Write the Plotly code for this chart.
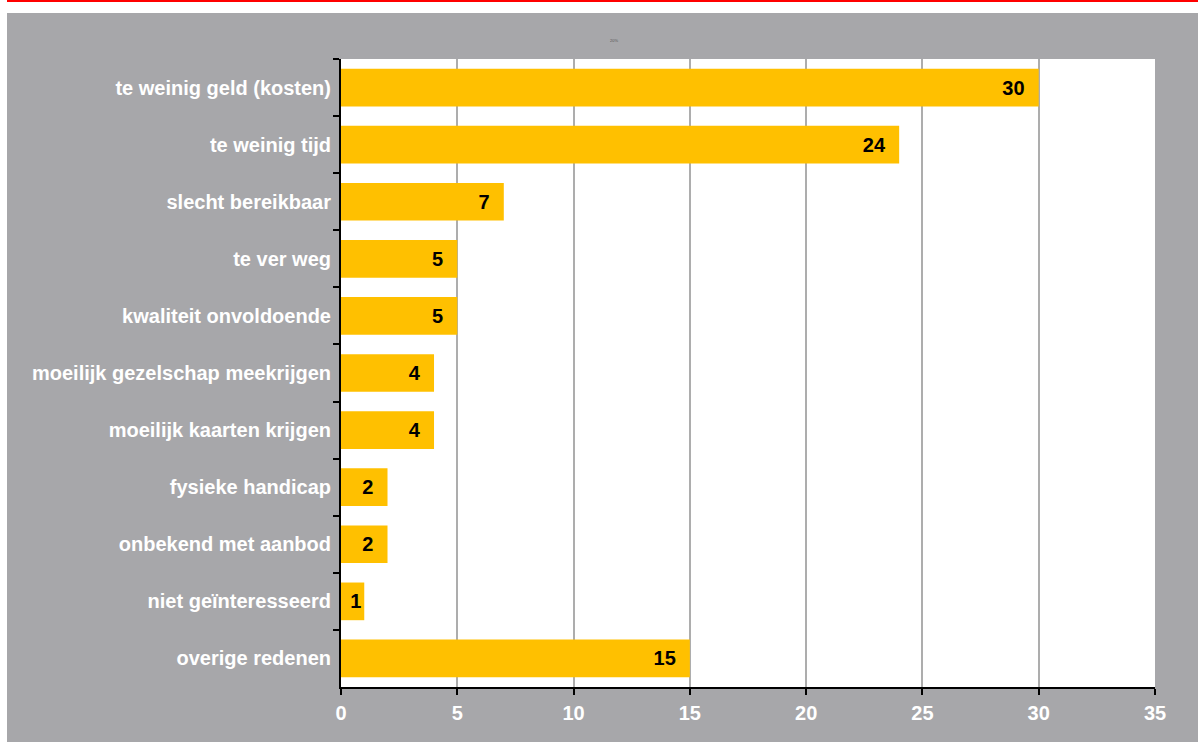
import plotly.graph_objects as go

categories = ["te weinig geld (kosten)", "te weinig tijd", "slecht bereikbaar", "te ver weg",
              "kwaliteit onvoldoende", "moeilijk gezelschap meekrijgen", "moeilijk kaarten krijgen",
              "fysieke handicap", "onbekend met aanbod", "niet geïnteresseerd", "overige redenen"]
values = [30, 24, 7, 5, 5, 4, 4, 2, 2, 1, 15]
x_ticks = [0, 5, 10, 15, 20, 25, 30, 35]

GRAY = "#a7a7aa"
BAR = "#ffc000"
FONT = "Liberation Sans, Arial, sans-serif"

W, H = 1198, 742
L, R, T, B = 341, 43, 59, 55
PW, PH = W - L - R, H - T - B

labels = [f"{v}" + ("\u00a0\u00a0" if v >= 2 else "") for v in values]

fig = go.Figure(go.Bar(
    y=categories, x=values, orientation="h",
    marker=dict(color=BAR, line=dict(width=0)),
    width=0.66,
    text=labels,
    textposition="inside", insidetextanchor="end", constraintext="none",
    textfont=dict(family=FONT, size=20, color="black", weight="bold"),
    cliponaxis=False,
))

fig.update_layout(
    width=W, height=H,
    paper_bgcolor=GRAY, plot_bgcolor="white",
    margin=dict(l=L, r=R, t=T, b=B),
    showlegend=False,
    font=dict(family=FONT),
    shapes=[
        dict(type="rect", xref="paper", yref="paper", x0=-L/PW, x1=1+R/PW,
             y0=1+(T-13)/PH, y1=1+T/PH, fillcolor="white", line=dict(width=0), layer="below"),
        dict(type="rect", xref="paper", yref="paper", x0=-L/PW, x1=-(L-7)/PW,
             y0=-B/PH, y1=1+T/PH, fillcolor="white", line=dict(width=0), layer="below"),
        dict(type="line", xref="paper", yref="paper", x0=-(L-7)/PW, x1=1+R/PW,
             y0=1+(T-1)/PH, y1=1+(T-1)/PH, line=dict(color="red", width=2)),
    ],
    annotations=[dict(text="20%", xref="paper", yref="paper", x=(608-L)/PW, y=1+(T-36)/PH,
                      showarrow=False, font=dict(size=4, color="#555"))],
)
fig.update_xaxes(range=[0, 35], tickvals=x_ticks, showgrid=True, gridcolor="#adadad", gridwidth=1.5,
                 showline=True, linecolor="black", linewidth=2, ticks="outside", ticklen=6,
                 tickcolor="black", tickwidth=2, zeroline=False, ticklabelstandoff=1,
                 tickfont=dict(family=FONT, size=20, color="white", weight="bold"))
fig.update_yaxes(autorange="reversed", showline=True, linecolor="black", linewidth=2,
                 ticks="outside", tickson="boundaries", ticklen=6, tickcolor="black", tickwidth=2,
                 showgrid=False, ticklabelstandoff=4,
                 tickfont=dict(family=FONT, size=20, color="white", weight="bold"))

fig.write_html("out.html", config={"responsive": False, "displayModeBar": False},
               post_script="document.body.style.margin='0';document.body.style.overflow='hidden';")
